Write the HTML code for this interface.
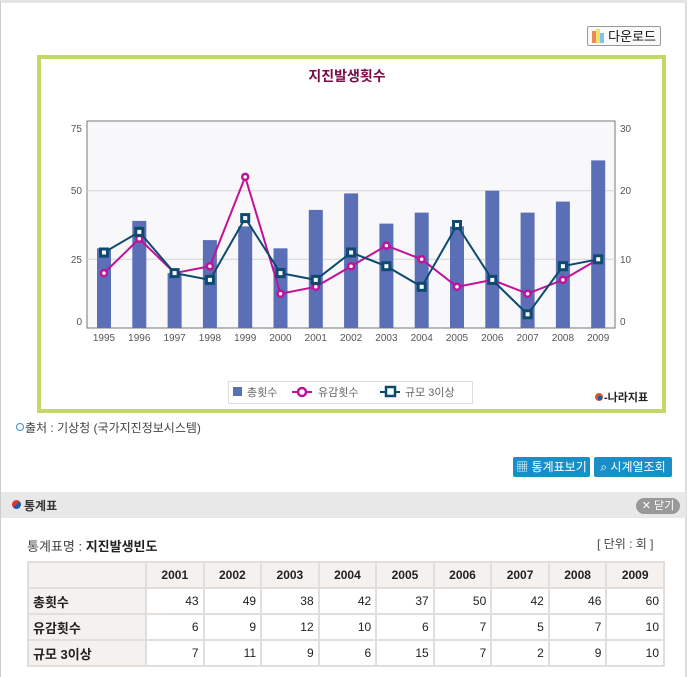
<!DOCTYPE html>
<html><head><meta charset="utf-8"><style>
body{margin:0;width:694px;height:677px;background:#fff;position:relative;overflow:hidden;font-family:"Liberation Sans","Noto Sans CJK KR","NanumGothic",sans-serif;font-size:12px;color:#333}
.a{position:absolute}
table{border-collapse:collapse;position:absolute;left:27px;top:561px;width:638px}
td{border:2px solid #e2dedb;height:24px;padding:0 4px;text-align:right;font-size:12px;color:#222}
tr:first-child td{background:#f4f1ee;text-align:center;font-weight:bold}
td:first-child{background:#f4f1ee;text-align:left;font-weight:bold;width:108px;font-size:13px}
.btn{background:#1a8fc7;color:#fff;border-radius:2px;height:20px;line-height:20px;font-size:12px;text-align:center}
</style></head><body>
<div class="a" style="left:0;top:0;width:687px;height:677px;border-left:1px solid #ccc;border-right:2px solid #ddd;border-top:3px solid #e4e4e4;box-sizing:border-box"></div>
<div class="a" style="left:587px;top:26px;width:74px;height:20px;border:1px solid #999;border-radius:2px;font-size:13px;line-height:20px;text-align:right;padding-right:4px;box-sizing:border-box;color:#111;background:#fafafa">다운로드</div>
<div class="a" style="left:592px;top:31px;width:4px;height:12px;background:#e98a5a"></div>
<div class="a" style="left:596px;top:29px;width:4px;height:14px;background:#f3df6a"></div>
<div class="a" style="left:600px;top:33px;width:4px;height:10px;background:#7ec4ec"></div>
<div class="a" style="left:37px;top:55px;width:629px;height:358px;border:4px solid #c2d967;box-sizing:border-box"></div>
<div class="a" style="left:0;width:694px;top:66px;text-align:center;font-weight:bold;font-size:14px;color:#7b0b47">지진발생횟수</div>
<svg class="a" style="left:0;top:0" width="694" height="420">
<rect x="87" y="121" width="528" height="207" fill="#f8f8fa" stroke="#777"/>
<g stroke="#d4d4d8"><line x1="87" x2="615" y1="190.7" y2="190.7"/><line x1="87" x2="615" y1="259.3" y2="259.3"/></g>
<g font-size="10" fill="#555" font-family="Liberation Sans"><text x="82" y="132" text-anchor="end">75</text><text x="82" y="194" text-anchor="end">50</text><text x="82" y="263" text-anchor="end">25</text><text x="82" y="325" text-anchor="end">0</text>
<text x="620" y="132">30</text><text x="620" y="194">20</text><text x="620" y="263">10</text><text x="620" y="325">0</text></g>
<g fill="#5b6fb6">
<rect x="97" y="248.3" width="14" height="79.7"/><rect x="132.3" y="220.9" width="14" height="107.1"/><rect x="167.6" y="273.1" width="14" height="54.9"/><rect x="202.9" y="240.1" width="14" height="87.9"/><rect x="238.2" y="226.4" width="14" height="101.6"/><rect x="273.5" y="248.3" width="14" height="79.7"/><rect x="308.8" y="209.9" width="14" height="118.1"/><rect x="344.1" y="193.4" width="14" height="134.6"/><rect x="379.4" y="223.6" width="14" height="104.4"/><rect x="414.7" y="212.6" width="14" height="115.4"/><rect x="450" y="226.4" width="14" height="101.6"/><rect x="485.3" y="190.7" width="14" height="137.3"/><rect x="520.6" y="212.6" width="14" height="115.4"/><rect x="555.9" y="201.6" width="14" height="126.4"/><rect x="591.2" y="160.4" width="14" height="167.6"/>
</g>
<polyline fill="none" stroke="#c0119b" stroke-width="2" points="104,273.1 139.3,238.7 174.6,273.1 209.9,266.2 245.2,176.9 280.5,293.7 315.8,286.8 351.1,266.2 386.4,245.6 421.7,259.3 457,286.8 492.3,279.9 527.6,293.7 562.9,279.9 598.2,259.3"/>
<g fill="#fff" stroke="#c0119b" stroke-width="2.5">
<circle cx="104" cy="273.1" r="3"/><circle cx="139.3" cy="238.7" r="3"/><circle cx="174.6" cy="273.1" r="3"/><circle cx="209.9" cy="266.2" r="3"/><circle cx="245.2" cy="176.9" r="3"/><circle cx="280.5" cy="293.7" r="3"/><circle cx="315.8" cy="286.8" r="3"/><circle cx="351.1" cy="266.2" r="3"/><circle cx="386.4" cy="245.6" r="3"/><circle cx="421.7" cy="259.3" r="3"/><circle cx="457" cy="286.8" r="3"/><circle cx="492.3" cy="279.9" r="3"/><circle cx="527.6" cy="293.7" r="3"/><circle cx="562.9" cy="279.9" r="3"/><circle cx="598.2" cy="259.3" r="3"/></g>
<polyline fill="none" stroke="#0d4a6e" stroke-width="2" points="104,252.5 139.3,231.9 174.6,273.1 209.9,279.9 245.2,218.1 280.5,273.1 315.8,279.9 351.1,252.5 386.4,266.2 421.7,286.8 457,225 492.3,279.9 527.6,314.3 562.9,266.2 598.2,259.3"/>
<g fill="#fff" stroke="#0d4a6e" stroke-width="3">
<rect x="100.5" y="249" width="7" height="7"/><rect x="135.8" y="228.4" width="7" height="7"/><rect x="171.1" y="269.6" width="7" height="7"/><rect x="206.4" y="276.4" width="7" height="7"/><rect x="241.7" y="214.6" width="7" height="7"/><rect x="277" y="269.6" width="7" height="7"/><rect x="312.3" y="276.4" width="7" height="7"/><rect x="347.6" y="249" width="7" height="7"/><rect x="382.9" y="262.7" width="7" height="7"/><rect x="418.2" y="283.3" width="7" height="7"/><rect x="453.5" y="221.5" width="7" height="7"/><rect x="488.8" y="276.4" width="7" height="7"/><rect x="524.1" y="310.8" width="7" height="7"/><rect x="559.4" y="262.7" width="7" height="7"/><rect x="594.7" y="255.8" width="7" height="7"/></g>
<g font-size="10" fill="#555" text-anchor="middle" font-family="Liberation Sans">
<text x="104" y="341">1995</text><text x="139.3" y="341">1996</text><text x="174.6" y="341">1997</text><text x="209.9" y="341">1998</text><text x="245.2" y="341">1999</text><text x="280.5" y="341">2000</text><text x="315.8" y="341">2001</text><text x="351.1" y="341">2002</text><text x="386.4" y="341">2003</text><text x="421.7" y="341">2004</text><text x="457" y="341">2005</text><text x="492.3" y="341">2006</text><text x="527.6" y="341">2007</text><text x="562.9" y="341">2008</text><text x="598.2" y="341">2009</text></g>
<rect x="228.5" y="381.5" width="244" height="22" fill="#fff" stroke="#ddd"/>
<rect x="233" y="387" width="9" height="9" fill="#5b6fb6"/>
<line x1="292" x2="312" y1="392" y2="392" stroke="#c0119b" stroke-width="2"/><circle cx="302" cy="392" r="4" fill="#fff" stroke="#c0119b" stroke-width="2.5"/>
<line x1="380" x2="400" y1="392" y2="392" stroke="#0d4a6e" stroke-width="2"/><rect x="386" y="387" width="9" height="9" fill="#fff" stroke="#0d4a6e" stroke-width="2.5"/>
<g font-size="11" fill="#666" font-family="Liberation Sans,Noto Sans CJK KR,sans-serif"><text x="247" y="396">총횟수</text><text x="318" y="396">유감횟수</text><text x="405" y="396">규모 3이상</text></g>
<circle cx="599" cy="397" r="4" fill="#e4572e"/><circle cx="600" cy="398" r="2.5" fill="#1c5fa8"/>
<text x="604" y="401" font-size="11" font-weight="bold" fill="#222" font-family="Liberation Sans,Noto Sans CJK KR,sans-serif">-나라지표</text>
</svg>
<div class="a" style="left:16px;top:423px;width:6px;height:6px;border:1px solid #3a8fd0;border-radius:50%;background:#fff"></div>
<div class="a" style="left:25px;top:419px;font-size:12px;color:#444">출처 : 기상청 (국가지진정보시스템)</div>
<div class="a btn" style="left:513px;top:457px;width:77px">▦ 통계표보기</div>
<div class="a btn" style="left:594px;top:457px;width:78px">⌕ 시계열조회</div>
<div class="a" style="left:1px;top:492px;width:685px;height:26px;background:#e8e8e8"></div>
<div class="a" style="left:12px;top:500px;width:9px;height:9px;border-radius:50%;background:linear-gradient(135deg,#e4312b 50%,#1c5fa8 50%)"></div>
<div class="a" style="left:24px;top:497px;font-weight:bold;font-size:12px;color:#333">통계표</div>
<div class="a" style="left:636px;top:498px;width:44px;height:16px;border-radius:8px;background:#999;color:#fff;font-size:11px;line-height:16px;text-align:center">✕ 닫기</div>
<div class="a" style="left:27px;top:536px;font-size:13px;color:#444">통계표명 : <b style="color:#222">지진발생빈도</b></div>
<div class="a" style="left:597px;top:535px;font-size:12px;color:#444">[ 단위 : 회 ]</div>
<table>
<tr><td></td><td>2001</td><td>2002</td><td>2003</td><td>2004</td><td>2005</td><td>2006</td><td>2007</td><td>2008</td><td>2009</td></tr>
<tr><td>총횟수</td><td>43</td><td>49</td><td>38</td><td>42</td><td>37</td><td>50</td><td>42</td><td>46</td><td>60</td></tr>
<tr><td>유감횟수</td><td>6</td><td>9</td><td>12</td><td>10</td><td>6</td><td>7</td><td>5</td><td>7</td><td>10</td></tr>
<tr><td>규모 3이상</td><td>7</td><td>11</td><td>9</td><td>6</td><td>15</td><td>7</td><td>2</td><td>9</td><td>10</td></tr>
</table>
</body></html>
